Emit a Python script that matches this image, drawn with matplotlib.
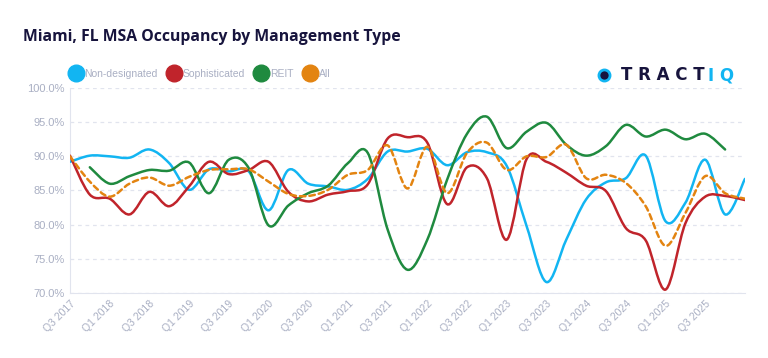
import numpy as np
import matplotlib
matplotlib.use("Agg")
import matplotlib.pyplot as plt
from matplotlib.path import Path
from matplotlib.patches import PathPatch
from matplotlib.lines import Line2D

plt.rcParams["font.family"] = ["Liberation Sans", "DejaVu Sans"]

# 数据：2017 Q3 到 2026 Q1，每季度一个点
quarters = []
for yr in range(2017, 2027):
    for q in range(1, 5):
        quarters.append(f"Q{q} {yr}")
quarters = quarters[2:37]

non_designated = [89.2, 90.1, 90.0, 89.8, 91.0, 89.0, 85.1, 88.1, 87.8, 87.8,
                  82.1, 88.0, 86.0, 85.6, 85.1, 86.7, 90.7, 90.7, 91.1, 88.7,
                  90.6, 90.6, 88.6, 79.8, 71.6, 77.8, 83.7, 86.2, 86.8, 90.1,
                  80.5, 83.2, 89.5, 81.5, 86.7]
sophisticated = [90.1, 84.4, 83.8, 81.5, 84.8, 82.7, 85.6, 89.2, 87.4, 88.0,
                 89.2, 84.8, 83.4, 84.4, 84.9, 85.9, 92.6, 92.8, 92.0, 83.0,
                 88.4, 86.8, 77.8, 89.6, 89.2, 87.6, 85.7, 84.9, 79.5, 77.7,
                 70.5, 80.2, 84.1, 84.2, 83.6]
reit = [None, 88.4, 86.0, 87.1, 88.0, 87.9, 89.1, 84.6, 89.5, 88.3,
        79.9, 82.8, 84.6, 85.7, 89.0, 90.5, 79.3, 73.4, 77.8, 86.6,
        93.3, 95.8, 91.2, 93.6, 94.9, 91.7, 90.1, 91.5, 94.6, 92.9,
        93.9, 92.5, 93.3, 91.0, None]
all_types = [90.0, 86.3, 84.1, 86.0, 86.9, 85.7, 87.0, 88.0, 88.1, 88.1,
             86.3, 84.5, 84.2, 85.1, 87.3, 88.0, 91.6, 85.3, 91.4, 84.6,
             90.5, 92.0, 88.0, 90.0, 89.9, 91.7, 86.8, 87.3, 86.1, 82.7,
             76.9, 81.7, 87.1, 84.6, 83.8]

# 横轴只标到 Q3 2025
tick_labels = quarters[0:33:2]

series = [
    ("Non-designated", non_designated, "#12b5f2", "-"),
    ("Sophisticated", sophisticated, "#c0242b", "-"),
    ("REIT", reit, "#1f8a3f", "-"),
    ("All", all_types, "#e38411", (0, (2.2, 1.6))),
]

GRID = "#e1e4ee"
TICK = "#a9afc3"


def smooth_path(xs, ys):
    """Catmull-Rom 转 Bezier，得到平滑曲线"""
    pts = np.column_stack([xs, ys])
    verts = [pts[0]]
    codes = [Path.MOVETO]
    n = len(pts)
    for i in range(n - 1):
        p0 = pts[max(i - 1, 0)]
        p1 = pts[i]
        p2 = pts[i + 1]
        p3 = pts[min(i + 2, n - 1)]
        c1 = p1 + (p2 - p0) / 6.0
        c2 = p2 - (p3 - p1) / 6.0
        verts += [c1, c2, p2]
        codes += [Path.CURVE4] * 3
    return Path(verts, codes)


fig = plt.figure(figsize=(7.68, 3.58), dpi=100)
ax = fig.add_axes([0.0911, 0.1816, 0.8789, 0.5726])

for name, vals, color, ls in series:
    xs = [i for i, v in enumerate(vals) if v is not None]
    ys = [v for v in vals if v is not None]
    patch = PathPatch(smooth_path(xs, ys), facecolor="none", edgecolor=color,
                      linewidth=1.8, linestyle=ls, capstyle="round", zorder=3)
    ax.add_patch(patch)

ax.set_xlim(0, len(quarters) - 1)
ax.set_ylim(70, 100)
ax.set_yticks(np.arange(70, 100.1, 5))
ax.set_yticklabels([f"{v:.1f}%" for v in np.arange(70, 100.1, 5)],
                   fontsize=8, color=TICK)
ax.set_xticks(range(0, 2 * len(tick_labels), 2))
ax.set_xticklabels(tick_labels, rotation=45, ha="right",
                   rotation_mode="anchor", fontsize=7.5, color=TICK)
ax.tick_params(axis="both", length=0, pad=4)
ax.grid(axis="y", color=GRID, linestyle=(0, (3, 3)), linewidth=0.9)
for s in ["top", "right"]:
    ax.spines[s].set_visible(False)
ax.spines["left"].set_color(GRID)
ax.spines["bottom"].set_color(GRID)
ax.set_axisbelow(True)

fig.text(0.030, 0.897, "Miami, FL MSA Occupancy by Management Type",
         fontsize=11.3, fontweight="bold", color="#17143d", va="center",
         family="Open Sans")

handles = [Line2D([], [], marker="o", linestyle="none", markersize=12,
                  markerfacecolor=c, markeredgecolor=c) for _, _, c, _ in series]
fig.legend(handles, [s[0] for s in series], loc="center left",
           bbox_to_anchor=(0.083, 0.793), ncol=4, frameon=False,
           fontsize=7.5, labelcolor=TICK, handletextpad=0.1,
           columnspacing=0.8, borderaxespad=0, handlelength=1.5)

# 右上角 logo
fig.add_artist(Line2D([0.787], [0.79], marker="o", markersize=8,
                      markerfacecolor="#17143d", markeredgecolor="#12b5f2",
                      markeredgewidth=2, transform=fig.transFigure))
fig.text(0.918, 0.79, "T R A C T", fontsize=12, fontweight="heavy",
         color="#17143d", ha="right", va="center", family="DejaVu Sans")
fig.text(0.922, 0.79, "I Q", fontsize=12, fontweight="heavy",
         color="#12b5f2", ha="left", va="center", family="DejaVu Sans")

fig.savefig("out.png", dpi=100, facecolor="white")
